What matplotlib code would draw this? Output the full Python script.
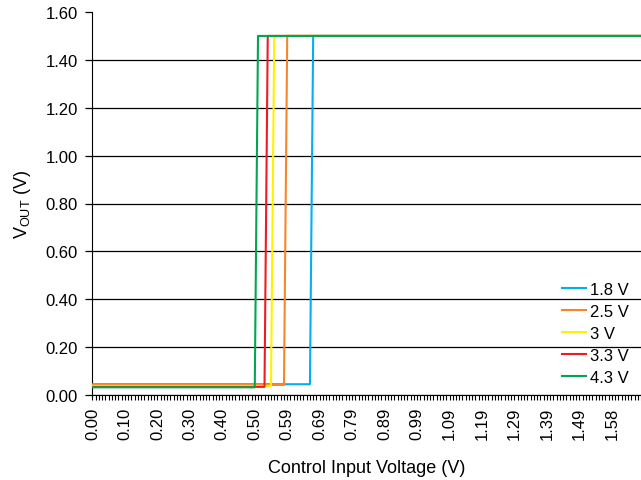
import numpy as np
import matplotlib.pyplot as plt

# control input voltage axis is a category axis (one sample per tick)
tick_labels = ["0.00", "0.10", "0.20", "0.30", "0.40", "0.50", "0.59", "0.69",
               "0.79", "0.89", "0.99", "1.09", "1.19", "1.29", "1.39", "1.49", "1.58"]
n_samples = 170

# each series: sample index / output voltage of its corner points
names = ["1.8 V", "2.5 V", "3 V", "3.3 V", "4.3 V"]
colors = ["#00B0F0", "#F7862A", "#FFF200", "#ED1C24", "#00A651"]
x_1v8 = [0, 67, 68, 169]
y_1v8 = [0.045, 0.045, 1.50, 1.50]
x_2v5 = [0, 59, 60, 169]
y_2v5 = [0.042, 0.042, 1.50, 1.50]
x_3v0 = [0, 55, 56, 169]
y_3v0 = [0.038, 0.038, 1.50, 1.50]
x_3v3 = [0, 53, 54, 169]
y_3v3 = [0.034, 0.034, 1.50, 1.50]
x_4v3 = [0, 50, 51, 169]
y_4v3 = [0.032, 0.032, 1.50, 1.50]

plt.rcParams['font.family'] = ['Liberation Sans', 'DejaVu Sans']
plt.rcParams['mathtext.fontset'] = 'custom'
plt.rcParams['mathtext.rm'] = 'Liberation Sans'
plt.rcParams['mathtext.it'] = 'Liberation Sans:italic'

fig = plt.figure(figsize=(6.41, 4.81), dpi=100)
ax = fig.add_axes([92/641, 1-396/481, 1-92/641, 383/481])

xs = [x_1v8, x_2v5, x_3v0, x_3v3, x_4v3]
ys = [y_1v8, y_2v5, y_3v0, y_3v3, y_4v3]
for x, y, c, n in zip(xs, ys, colors, names):
    ax.plot(x, y, color=c, lw=1.5, label=n, zorder=3)

ax.set_ylim(0, 1.6)
ax.set_yticks(np.arange(0, 1.61, 0.2))
ax.set_yticklabels(["%.2f" % v for v in np.arange(0, 1.61, 0.2)])
ax.set_xlim(-0.15, 166.2)
ax.set_xticks(np.arange(len(tick_labels)) * 10)
ax.set_xticklabels(tick_labels, rotation=90)
ax.set_xticks(np.arange(n_samples), minor=True)

ax.yaxis.grid(True, color='black', lw=0.9)
ax.set_axisbelow(True)
for s in ['top', 'right']:
    ax.spines[s].set_visible(False)
ax.tick_params(axis='both', labelsize=12, direction='out', width=0.9)
ax.tick_params(axis='x', which='both', length=3.6, width=0.8, pad=5)
ax.tick_params(axis='y', length=5, pad=5)
fig.canvas.draw()
ax.get_ygridlines()[-1].set_visible(False)

ax.set_xlabel("Control Input Voltage (V)", fontsize=13, labelpad=14)
ax.set_ylabel(r"V$_{\mathrm{OUT}}$ (V)", fontsize=13, labelpad=9)

fig.legend(loc='upper left', bbox_to_anchor=(562/641, 1-283/481), frameon=False,
           fontsize=12, handlelength=1.45, handletextpad=0.2, labelspacing=0.42,
           borderpad=0, borderaxespad=0)

plt.savefig("out.png", dpi=100)
